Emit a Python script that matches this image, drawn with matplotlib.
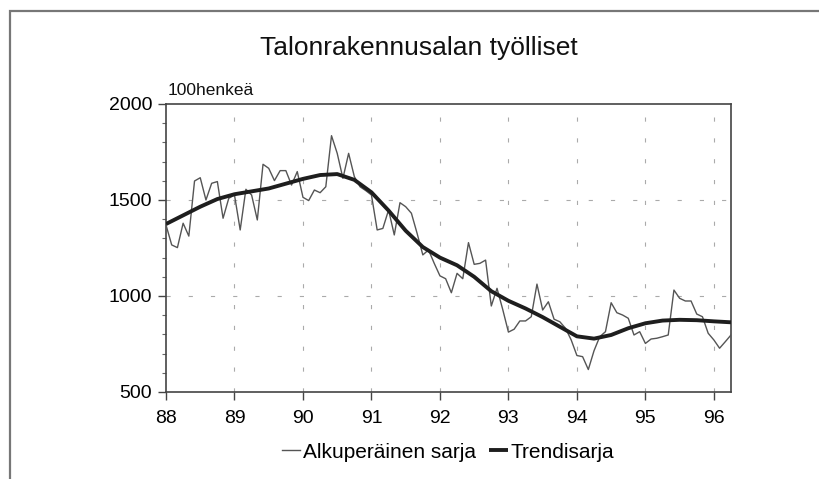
import matplotlib
matplotlib.use("Agg")
import matplotlib.pyplot as plt
import numpy as np

plt.rcParams['font.family'] = ['Liberation Sans', 'DejaVu Sans']
plt.rcParams['lines.scale_dashes'] = False

# monthly original series, 1988/01 .. 1996/04 (100 henkeä)
orig_88 = [1370, 1266, 1252, 1379, 1312, 1599, 1616, 1500, 1587, 1596, 1405, 1509]
orig_89 = [1526, 1344, 1556, 1526, 1396, 1686, 1665, 1601, 1653, 1653, 1578, 1648]
orig_90 = [1514, 1497, 1552, 1538, 1569, 1835, 1743, 1613, 1743, 1622, 1569, 1549]
orig_91 = [1526, 1344, 1352, 1448, 1318, 1486, 1465, 1431, 1326, 1214, 1240, 1170]
orig_92 = [1105, 1090, 1017, 1118, 1090, 1278, 1165, 1170, 1187, 948, 1040, 930]
orig_93 = [812, 827, 870, 870, 892, 1062, 927, 970, 879, 866, 832, 771]
orig_94 = [690, 684, 617, 715, 788, 814, 965, 913, 901, 884, 797, 814]
orig_95 = [753, 776, 780, 788, 797, 1031, 988, 974, 974, 906, 892, 806]
orig_96 = [771, 728, 762, 797]
original = orig_88 + orig_89 + orig_90 + orig_91 + orig_92 + orig_93 + orig_94 + orig_95 + orig_96
months = 88 + np.arange(len(original)) / 12

# trend series, read quarterly
trend = [1375, 1420, 1465, 1505, 1530, 1545, 1560, 1585, 1610, 1630, 1635, 1605,
         1540, 1445, 1340, 1255, 1200, 1160, 1100, 1025, 975, 935, 890, 840,
         790, 778, 797, 832, 858, 872, 876, 874, 868, 863]
quarters = 88 + np.arange(len(trend)) / 4

years = list(range(88, 97))

fig = plt.figure(figsize=(8.19, 4.79), dpi=100)
ax = fig.add_axes([166/819, 1-392/479, (731-166)/819, (392-104)/479])

# outer frame
fig.patches.append(plt.Rectangle((10/819, -0.1), 1.0, 1-11/479+0.1, transform=fig.transFigure,
                                 fill=False, edgecolor="#777777", lw=1.6))

ax.plot(months, original, color="#555555", lw=1.0, label="Alkuperäinen sarja", zorder=3)
ax.plot(quarters, trend, color="#1e1e1e", lw=2.8, label="Trendisarja", zorder=4,
        solid_capstyle="butt")

for yr in years[1:]:
    ax.axvline(yr, color="#aaaaaa", lw=0.8, ls=(0, (3, 12)), zorder=1)
for v in [1000, 1500]:
    ax.axhline(v, color="#aaaaaa", lw=0.8, ls=(0, (3, 13)), zorder=1)

ax.set_xlim(88, 96.25)
ax.set_ylim(500, 2000)
ax.set_xticks(years)
ax.set_xticklabels([str(y) for y in years])
ax.set_yticks([500, 1000, 1500, 2000])
ax.set_yticks(np.arange(500, 2001, 100), minor=True)
ax.tick_params(axis="both", which="major", direction="out", length=6, width=1,
               color="#444444", labelsize=14, pad=4)
ax.tick_params(axis="x", which="major", pad=7)
ax.tick_params(axis="y", which="minor", direction="out", length=3, width=0.8, color="#666666")
for s in ax.spines.values():
    s.set_color("#444444")
    s.set_linewidth(1.2)

fig.text(0.512, 1-48/479, "Talonrakennusalan työlliset", ha="center", va="center",
         fontsize=19, color="#111111")
ax.text(0.003, 1.02, "100henkeä", transform=ax.transAxes, ha="left", va="bottom",
        fontsize=12.5, color="#111111")

fig.legend(loc="center", bbox_to_anchor=(448/819, 1-452/479), ncol=2, frameon=False,
           fontsize=15, handlelength=0.9, handletextpad=0.15, columnspacing=0.6)

fig.savefig("out.png", dpi=100)
